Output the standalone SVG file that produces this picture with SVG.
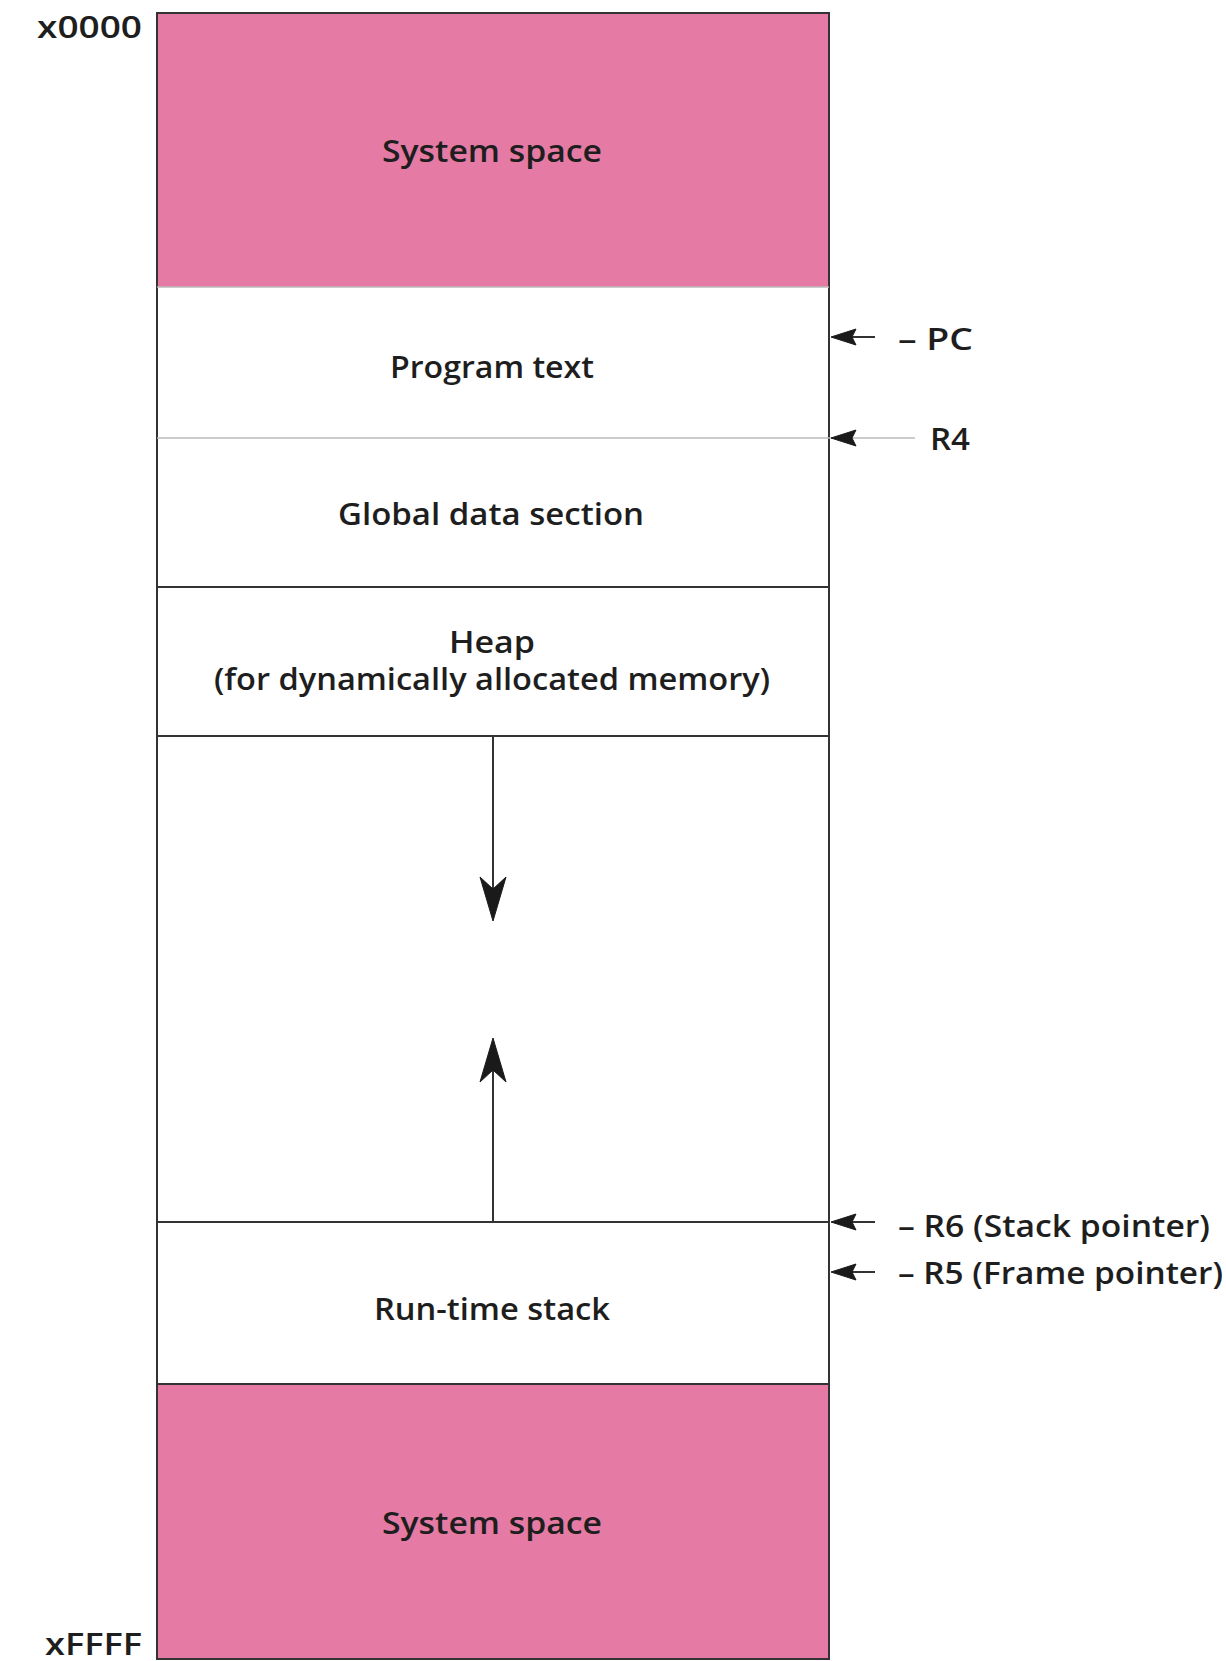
<svg xmlns="http://www.w3.org/2000/svg" width="1226" height="1661" viewBox="0 0 1226 1661">
<style>
text{font-family:"Open Sans","Liberation Sans",Arial,sans-serif;font-size:30px;font-weight:600;fill:#1e1e1e;}
.c{text-anchor:middle;}
.e{text-anchor:end;}
.pink{fill:#E57BA4;}
.dk{stroke:#333;stroke-width:2;fill:none;}
.lt{stroke:#bbb;stroke-width:1.5;fill:none;}
.ah{fill:#1a1a1a;stroke:#1a1a1a;stroke-width:1;stroke-linejoin:round;}
</style>
<rect x="0" y="0" width="1226" height="1661" fill="#fff"/>
<g id="sys-top">
<rect class="pink" x="157" y="13" width="672" height="274"/>
<text class="c" x="492" y="162" textLength="220" lengthAdjust="spacingAndGlyphs">System space</text>
</g>
<g id="program-text">
<text class="c" x="492" y="378" textLength="204" lengthAdjust="spacingAndGlyphs">Program text</text>
</g>
<g id="global-data">
<text class="c" x="491" y="525" textLength="306" lengthAdjust="spacingAndGlyphs">Global data section</text>
</g>
<g id="heap">
<text class="c" x="492" y="653" textLength="86" lengthAdjust="spacingAndGlyphs">Heap</text>
<text class="c" x="492" y="690" textLength="556" lengthAdjust="spacingAndGlyphs">(for dynamically allocated memory)</text>
</g>
<g id="runtime-stack">
<text class="c" x="492" y="1320" textLength="236" lengthAdjust="spacingAndGlyphs">Run-time stack</text>
</g>
<g id="sys-bottom">
<rect class="pink" x="157" y="1384" width="672" height="275"/>
<text class="c" x="492" y="1534" textLength="220" lengthAdjust="spacingAndGlyphs">System space</text>
</g>
<g id="frame">
<rect class="dk" x="157" y="13" width="672" height="1646"/>
<line class="lt" x1="157" y1="287" x2="829" y2="287" stroke="#c9608a"/>
<line class="lt" x1="157" y1="438" x2="915" y2="438"/>
<line class="dk" x1="157" y1="587" x2="829" y2="587"/>
<line class="dk" x1="157" y1="736" x2="829" y2="736"/>
<line class="dk" x1="157" y1="1222" x2="829" y2="1222"/>
<line class="dk" x1="157" y1="1384" x2="829" y2="1384" stroke-width="3"/>
</g>
<g id="addr-labels">
<text class="e" x="142" y="38" textLength="105" lengthAdjust="spacingAndGlyphs">x0000</text>
<text class="e" x="142" y="1655" textLength="97" lengthAdjust="spacingAndGlyphs">xFFFF</text>
</g>
<g id="connectors">
<line class="dk" x1="493" y1="736" x2="493" y2="895"/>
<path class="ah" d="M493,921 L480,877 L493,889 L506,877 Z"/>
<line class="dk" x1="493" y1="1222" x2="493" y2="1064"/>
<path class="ah" d="M493,1038 L480,1082 L493,1070 L506,1082 Z"/>
<line class="dk" x1="850" y1="337" x2="875" y2="337" stroke-width="2.5"/>
<path class="ah" d="M831,337 L856,329 L852,337 L856,345 Z"/>
<path class="ah" d="M831,438 L856,430 L852,438 L856,446 Z"/>
<line class="dk" x1="850" y1="1222" x2="875" y2="1222" stroke-width="2.5"/>
<path class="ah" d="M831,1222 L856,1214 L852,1222 L856,1230 Z"/>
<line class="dk" x1="850" y1="1272" x2="875" y2="1272" stroke-width="2.5"/>
<path class="ah" d="M831,1272 L856,1264 L852,1272 L856,1280 Z"/>
</g>
<g id="reg-labels">
<text x="898" y="350" textLength="75" lengthAdjust="spacingAndGlyphs">– PC</text>
<text x="930" y="450" textLength="40" lengthAdjust="spacingAndGlyphs">R4</text>
<text x="898" y="1237" textLength="312" lengthAdjust="spacingAndGlyphs">– R6 (Stack pointer)</text>
<text x="898" y="1284" textLength="325" lengthAdjust="spacingAndGlyphs">– R5 (Frame pointer)</text>
</g>
</svg>
